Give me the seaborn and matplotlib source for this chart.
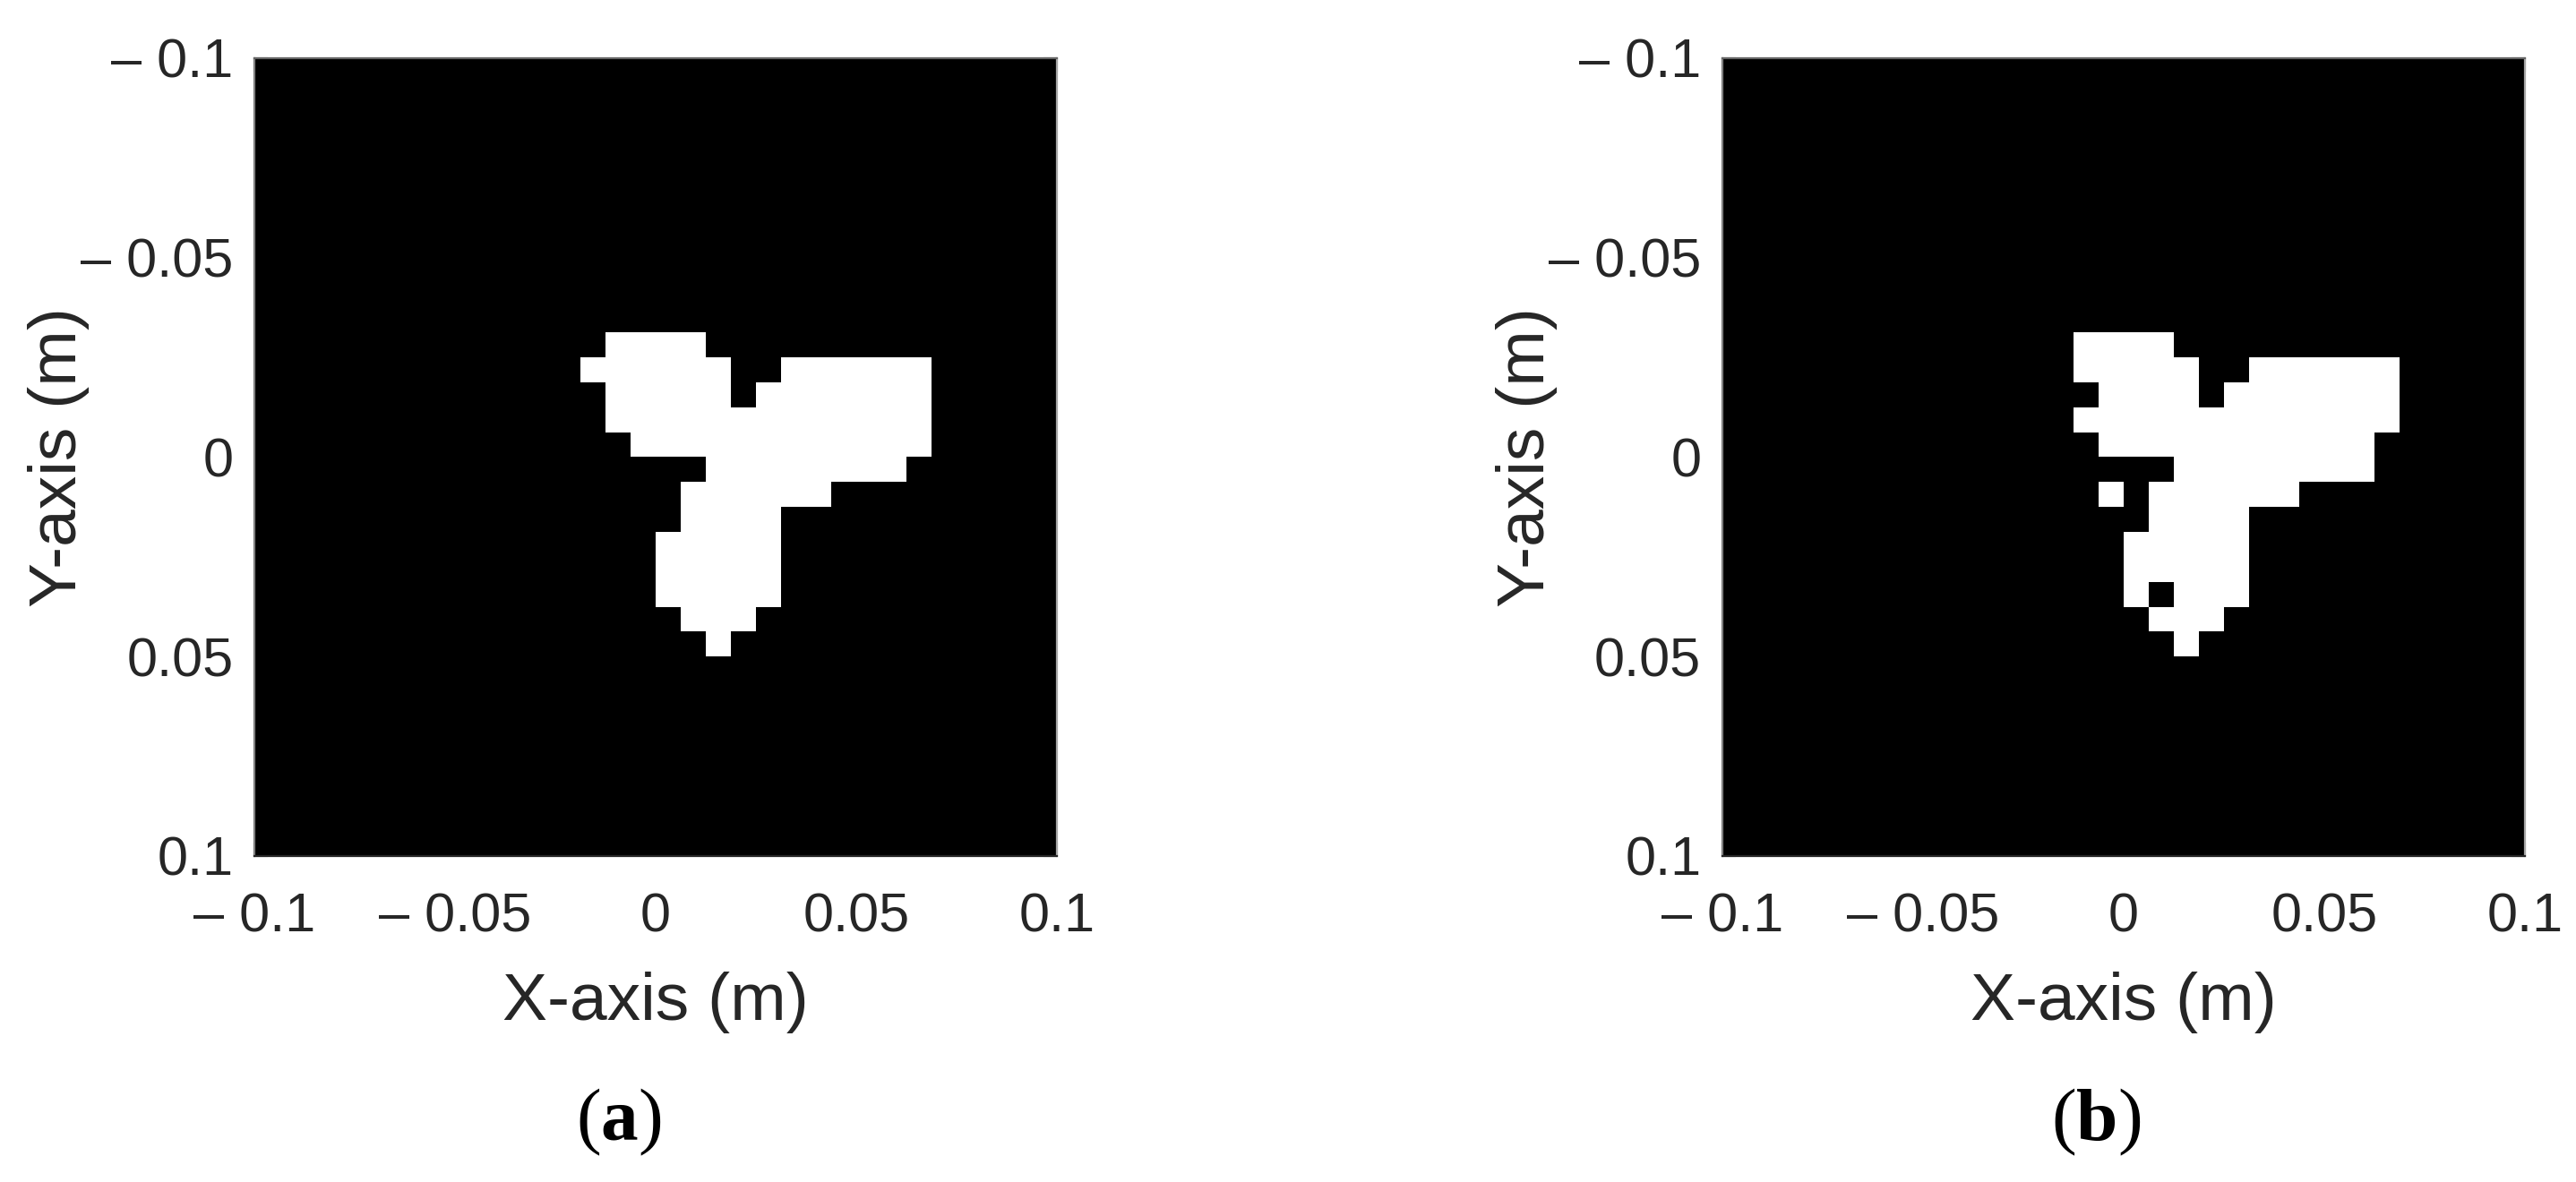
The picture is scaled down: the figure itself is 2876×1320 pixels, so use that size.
# binary region images, 32 x 32 cells over [-0.1, 0.1] m
import numpy as np
import matplotlib.pyplot as plt
from matplotlib.colors import ListedColormap
import seaborn as sns

# grid / axis data
x_min = -0.1
x_max = 0.1
n_cells = 32
tick_values = [-0.1, -0.05, 0, 0.05, 0.1]
tick_labels = ['\u2013 0.1', '\u2013 0.05', '0', '0.05', '0.1']
captions = ['a', 'b']

# white cells: {row: [(first_col, last_col), ...]}, row 0 is y = -0.1 (top)
white_a = {
    11: [(14, 17)],
    12: [(13, 18), (21, 26)],
    13: [(14, 18), (20, 26)],
    14: [(14, 26)],
    15: [(15, 26)],
    16: [(18, 25)],
    17: [(17, 22)],
    18: [(17, 20)],
    19: [(16, 20)],
    20: [(16, 20)],
    21: [(16, 20)],
    22: [(17, 19)],
    23: [(18, 18)],
}
white_b = {
    11: [(14, 17)],
    12: [(14, 18), (21, 26)],
    13: [(15, 18), (20, 26)],
    14: [(14, 26)],
    15: [(15, 25)],
    16: [(18, 25)],
    17: [(15, 15), (17, 22)],
    18: [(17, 20)],
    19: [(16, 20)],
    20: [(16, 20)],
    21: [(16, 16), (18, 20)],
    22: [(17, 19)],
    23: [(18, 18)],
}


def build_grid(white_runs):
    grid = np.zeros((n_cells, n_cells))
    for row, runs in white_runs.items():
        for c0, c1 in runs:
            grid[row, c0:c1 + 1] = 1
    return grid


sns.set_style('white')
plt.rcParams['font.family'] = ['Liberation Sans', 'DejaVu Sans']
plt.rcParams['mathtext.fontset'] = 'custom'
plt.rcParams['mathtext.rm'] = 'Liberation Serif'
plt.rcParams['mathtext.bf'] = 'Liberation Serif:bold'

text_color = '#262626'
cell = (x_max - x_min) / n_cells
tick_pos = [(v - x_min) / cell for v in tick_values]

fig = plt.figure(figsize=(28.76, 13.2), dpi=100)
positions = [[0.09875, 0.2758, 0.3115, 0.675], [0.6686, 0.2758, 0.3115, 0.675]]
caption_x = [0.2403, 0.8136]

for pos, runs, cap, cx in zip(positions, [white_a, white_b], captions, caption_x):
    ax = fig.add_axes(pos)
    sns.heatmap(build_grid(runs), cmap=ListedColormap(['black', 'white']),
                vmin=0, vmax=1, cbar=False, ax=ax,
                xticklabels=False, yticklabels=False)
    ax.set_xticks(tick_pos)
    ax.set_xticklabels(tick_labels)
    ax.set_yticks(tick_pos)
    ax.set_yticklabels(tick_labels)
    ax.tick_params(direction='in', length=11, width=1.5, color='#555555',
                   labelsize=44, labelcolor=text_color, top=True, right=True,
                   bottom=True, left=True)
    ax.tick_params(axis='x', pad=29)
    ax.tick_params(axis='y', pad=17)
    for side, col in zip(['left', 'top', 'right', 'bottom'],
                         ['#7f7f7f', '#666666', '#a6a6a6', '#262626']):
        ax.spines[side].set_visible(True)
        ax.spines[side].set_color(col)
        ax.spines[side].set_linewidth(1.6)
    ax.set_xlabel('X-axis (m)', fontsize=54, color=text_color)
    ax.set_ylabel('Y-axis (m)', fontsize=54, color=text_color)
    ax.xaxis.set_label_coords(0.5, -0.145)
    ax.yaxis.set_label_coords(-0.205, 0.5)
    fig.text(cx, 0.035, r'($\mathbf{' + cap + '}$)', fontsize=60,
             family='Liberation Serif', ha='center', va='baseline', color='black')

fig.savefig('out.png', dpi=100, facecolor='white')
